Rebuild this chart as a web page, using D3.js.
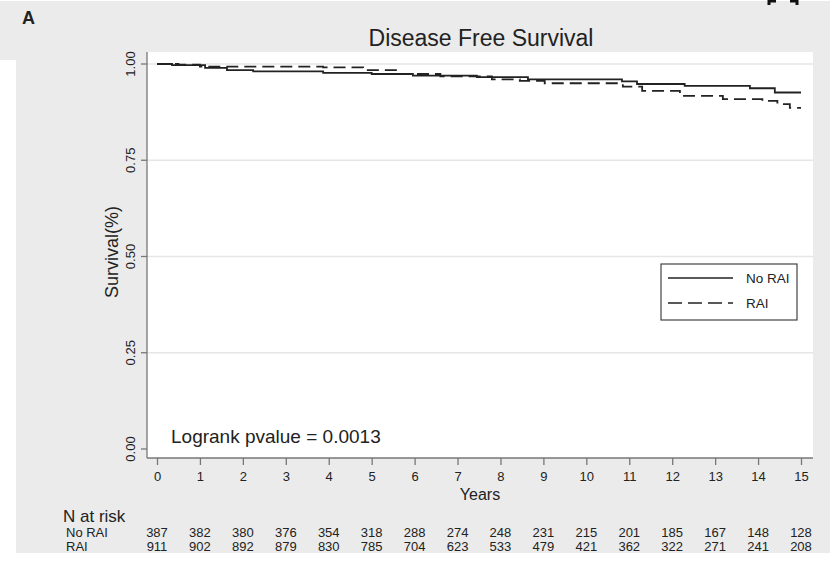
<!DOCTYPE html>
<html>
<head>
<meta charset="utf-8">
<script src="https://cdn.jsdelivr.net/npm/d3@7"></script>
<style>
  body { margin: 0; background: #fff; }
  svg text { font-family: "Liberation Sans", Arial, sans-serif; fill: #222; }
</style>
</head>
<body>
<div id="chart"></div>
<script>
// data
var years = [0, 1, 2, 3, 4, 5, 6, 7, 8, 9, 10, 11, 12, 13, 14, 15];
var survTicks = [0, 0.25, 0.5, 0.75, 1];

var noRaiTime = [0, 0.35, 1.12, 1.63, 2.24, 3.87, 5.0, 5.96, 7.45, 8.64, 10.83, 11.18, 12.29, 13.81, 14.39, 15];
var noRaiSurv = [1.0, 0.997, 0.990, 0.984, 0.981, 0.977, 0.974, 0.970, 0.966, 0.960, 0.955, 0.948, 0.943, 0.937, 0.926, 0.926];

var raiTime = [0, 0.5, 1.0, 3.87, 4.8, 5.66, 6.6, 7.8, 8.45, 9.03, 10.85, 11.3, 12.18, 13.18, 14.1, 14.45, 14.74, 15];
var raiSurv = [1.0, 0.998, 0.993, 0.991, 0.984, 0.974, 0.968, 0.960, 0.956, 0.950, 0.941, 0.930, 0.917, 0.909, 0.904, 0.896, 0.886, 0.886];

var noRaiRisk = [387, 382, 380, 376, 354, 318, 288, 274, 248, 231, 215, 201, 185, 167, 148, 128];
var raiRisk = [911, 902, 892, 879, 830, 785, 704, 623, 533, 479, 421, 362, 322, 271, 241, 208];

var groups = ["No RAI", "RAI"];

var width = 830, height = 563;

var svg = d3.select("#chart").append("svg")
  .attr("width", width)
  .attr("height", height);

// gray panel
svg.append("rect").attr("x", 0).attr("y", 1).attr("width", 830).attr("height", 59).attr("fill", "#ebebeb");
svg.append("rect").attr("x", 16).attr("y", 1).attr("width", 814).attr("height", 552).attr("fill", "#ebebeb");

// bit of bracket cut off at the top
svg.append("path").attr("d", "M769,5V1H776M790,1H797V5")
  .attr("fill", "none").attr("stroke", "#111").attr("stroke-width", 3);

var x = d3.scaleLinear().domain([0, 15]).range([157, 801]);
var y = d3.scaleLinear().domain([0, 1]).range([449, 64]);

var plot = { left: 147, right: 813, top: 52, bottom: 458 };

svg.append("rect")
  .attr("x", plot.left).attr("y", plot.top)
  .attr("width", plot.right - plot.left).attr("height", plot.bottom - plot.top)
  .attr("fill", "#fff");

// gridlines
svg.selectAll(".grid")
  .data(survTicks.filter(function(d) { return d > 0; }))
  .enter().append("line")
  .attr("class", "grid")
  .attr("x1", plot.left).attr("x2", plot.right)
  .attr("y1", function(d) { return y(d); })
  .attr("y2", function(d) { return y(d); })
  .attr("stroke", "#e6e6e6").attr("stroke-width", 1.5);

// y axis
var yAxis = d3.axisLeft(y)
  .tickValues(survTicks)
  .tickFormat(d3.format(".2f"))
  .tickSize(6)
  .tickSizeOuter(0);

var gy = svg.append("g").attr("transform", "translate(" + plot.left + ",0)").call(yAxis);
gy.select(".domain").attr("d", "M0," + plot.top + "V" + plot.bottom);
gy.selectAll("line, .domain").attr("stroke", "#777").attr("stroke-width", 1.3);
gy.selectAll(".tick").attr("transform", null);
gy.selectAll(".tick line").attr("y1", function(d) { return y(d); }).attr("y2", function(d) { return y(d); });
gy.selectAll("text")
  .attr("x", 0).attr("y", 0).attr("dy", 0)
  .attr("transform", function(d) { return "translate(-12," + y(d) + ") rotate(-90)"; })
  .attr("text-anchor", "middle")
  .style("font-size", "13px")
  .style("font-family", "'Liberation Sans', Arial, sans-serif")
  .attr("fill", "#333");

// x axis
var xAxis = d3.axisBottom(x)
  .tickValues(years)
  .tickSize(7)
  .tickSizeOuter(0)
  .tickPadding(7);

var gx = svg.append("g").attr("transform", "translate(0," + plot.bottom + ")").call(xAxis);
gx.select(".domain").attr("d", "M" + plot.left + ",0H" + plot.right);
gx.selectAll("line, .domain").attr("stroke", "#777").attr("stroke-width", 1.3);
gx.selectAll("text")
  .style("font-size", "13px")
  .style("font-family", "'Liberation Sans', Arial, sans-serif")
  .attr("fill", "#333");

// curves
var line = d3.line()
  .x(function(d) { return x(d[0]); })
  .y(function(d) { return y(d[1]); })
  .curve(d3.curveStepAfter);

svg.append("path")
  .datum(d3.zip(noRaiTime, noRaiSurv))
  .attr("d", line)
  .attr("fill", "none").attr("stroke", "#222").attr("stroke-width", 1.8);

svg.append("path")
  .datum(d3.zip(raiTime, raiSurv))
  .attr("d", line)
  .attr("fill", "none").attr("stroke", "#222").attr("stroke-width", 1.8)
  .attr("stroke-dasharray", "12,6");

// titles
svg.append("text").attr("x", 22).attr("y", 24)
  .style("font-size", "18px").style("font-weight", "bold").attr("fill", "#111").text("A");

svg.append("text").attr("x", 481).attr("y", 46)
  .attr("text-anchor", "middle").style("font-size", "23px").text("Disease Free Survival");

svg.append("text")
  .attr("transform", "translate(118,252) rotate(-90)")
  .attr("text-anchor", "middle").style("font-size", "18px").attr("fill", "#333").text("Survival(%)");

svg.append("text").attr("x", 480).attr("y", 500)
  .attr("text-anchor", "middle").style("font-size", "16px").attr("fill", "#333").text("Years");

svg.append("text").attr("x", 171).attr("y", 443)
  .style("font-size", "19px").text("Logrank pvalue = 0.0013");

// legend
var lg = svg.append("g").attr("transform", "translate(661,264)");
lg.append("rect").attr("width", 136).attr("height", 56)
  .attr("fill", "#fff").attr("stroke", "#444").attr("stroke-width", 1.2);
lg.selectAll(".key").data(groups).enter().append("line")
  .attr("x1", 7).attr("x2", 72)
  .attr("y1", function(d, i) { return 14 + i * 25; })
  .attr("y2", function(d, i) { return 14 + i * 25; })
  .attr("stroke", "#222").attr("stroke-width", 1.6)
  .attr("stroke-dasharray", function(d, i) { return i ? "14,6" : null; });
lg.selectAll(".lab").data(groups).enter().append("text")
  .attr("x", 85)
  .attr("y", function(d, i) { return 19 + i * 25; })
  .style("font-size", "13.5px").attr("fill", "#333")
  .text(function(d) { return d; });

// number at risk table
svg.append("text").attr("x", 63).attr("y", 522).style("font-size", "17px").text("N at risk");

var rows = [noRaiRisk, raiRisk];
rows.forEach(function(r, i) {
  var by = 537 + i * 14;
  svg.append("text").attr("x", 66).attr("y", by)
    .style("font-size", "13px").attr("fill", "#333").text(groups[i]);
  svg.selectAll(".risk" + i).data(r).enter().append("text")
    .attr("class", "risk" + i)
    .attr("x", function(d, j) { return x(years[j]); })
    .attr("y", by)
    .attr("text-anchor", "middle")
    .style("font-size", "13px").attr("fill", "#333")
    .text(function(d) { return d; });
});
</script>
</body>
</html>
